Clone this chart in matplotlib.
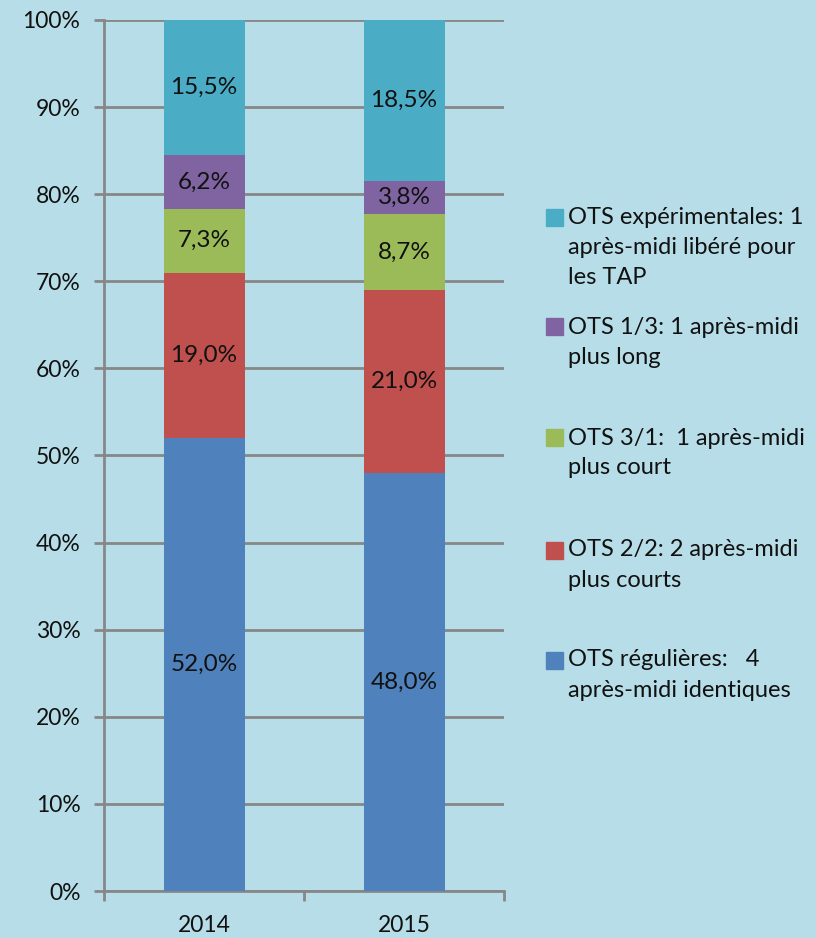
import matplotlib
matplotlib.use("Agg")
import matplotlib.pyplot as plt
from matplotlib.patches import Rectangle
import numpy as np

plt.rcParams['font.family'] = ['Lato', 'DejaVu Sans']

years = ["2014", "2015"]
series_labels = [
    "OTS régulières:   4\naprès-midi identiques",
    "OTS 2/2: 2 après-midi\nplus courts",
    "OTS 3/1:  1 après-midi\nplus court",
    "OTS 1/3: 1 après-midi\nplus long",
    "OTS expérimentales: 1\naprès-midi libéré pour\nles TAP",
]
values_2014 = [52.0, 19.0, 7.3, 6.2, 15.5]
values_2015 = [48.0, 21.0, 8.7, 3.8, 18.5]
colors = ["#4F81BD", "#C0504D", "#9BBB59", "#8064A2", "#4BACC6"]
yticks = list(range(0, 101, 10))

bg = "#B7DEE8"
grid_c = "#878787"
txt_c = "#111111"

W, H = 816, 938
fig = plt.figure(figsize=(W / 100, H / 100), dpi=100, facecolor=bg)
ax = fig.add_axes([104 / W, 1 - 891 / H, 400 / W, 871 / H])
ax.set_facecolor(bg)

data = np.array([values_2014, values_2015]).T
x = np.arange(len(years))
bottom = np.zeros(len(years))
for i, vals in enumerate(data):
    ax.bar(x, vals, bottom=bottom, width=0.405, color=colors[i], zorder=3,
           linewidth=0)
    for xi, v, b in zip(x, vals, bottom):
        ax.text(xi, b + v / 2, f"{v:.1f}%".replace(".", ","), ha="center",
                va="center", fontsize=17.5, color=txt_c, zorder=4)
    bottom += vals

ax.set_xlim(-0.5, 1.5)
ax.set_ylim(0, 100)
ax.set_yticks(yticks)
ax.set_yticklabels([f"{t}%" for t in yticks])
ax.set_xticks(x)
ax.set_xticklabels(years)
ax.set_xticks([-0.5, 0.5, 1.5], minor=True)
ax.grid(axis="y", color=grid_c, linewidth=2, zorder=1)
for s in ["top", "right"]:
    ax.spines[s].set_visible(False)
for s in ["left", "bottom"]:
    ax.spines[s].set_color(grid_c)
    ax.spines[s].set_linewidth(2)
ax.tick_params(axis="y", length=7, width=2, color=grid_c, pad=10,
               labelsize=16.5, labelcolor=txt_c)
ax.tick_params(axis="x", which="major", length=0, pad=17, labelsize=16.5,
               labelcolor=txt_c)
ax.tick_params(axis="x", which="minor", length=7, width=2, color=grid_c)

# Legend drawn manually (evenly spaced entries)
line_h = 30
entry_tops = [660, 550, 438, 327, 217]
for i, lab in enumerate(series_labels):
    y0 = entry_tops[i]
    fig.patches.append(Rectangle((546 / W, 1 - (y0 + 8.5) / H), 17 / W, 17 / H,
                                 transform=fig.transFigure, color=colors[i]))
    for j, line in enumerate(lab.split("\n")):
        fig.text(568 / W, 1 - (y0 + j * line_h) / H, line, ha="left",
                 va="center", fontsize=17, color=txt_c)

fig.savefig("out.png", dpi=100, facecolor=bg)
